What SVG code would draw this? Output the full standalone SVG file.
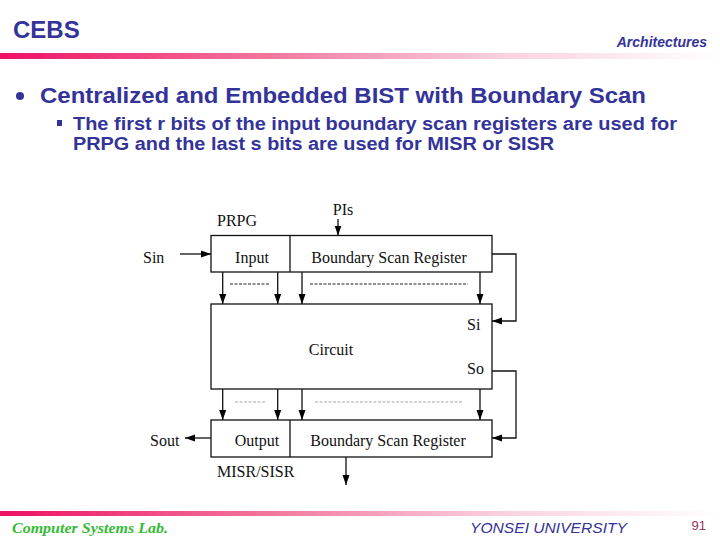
<svg xmlns="http://www.w3.org/2000/svg" width="720" height="540" viewBox="0 0 720 540">
<defs>
<linearGradient id="bar" x1="0" y1="0" x2="1" y2="0">
<stop offset="0" stop-color="#ee1166"/>
<stop offset="0.35" stop-color="#f27099"/>
<stop offset="0.7" stop-color="#fad2df"/>
<stop offset="1" stop-color="#ffffff"/>
</linearGradient>
<marker id="ah" viewBox="0 0 10 10" refX="10" refY="5" markerWidth="10" markerHeight="10" markerUnits="userSpaceOnUse" orient="auto">
<path d="M0,1.5 L10,5 L0,8.5 Z" fill="#000"/>
</marker>
<style>
.hd{font-family:"Liberation Sans",Arial,sans-serif;font-weight:bold;fill:#333399}
.tm{font-family:"Liberation Serif","Times New Roman",serif;font-size:16px;fill:#111}
.box{fill:#fff;stroke:#111;stroke-width:1.3}
.ln{fill:none;stroke:#111;stroke-width:1.3}
.ar{fill:none;stroke:#111;stroke-width:1.3;marker-end:url(#ah)}
.dk{stroke:#222;stroke-width:1.2;stroke-dasharray:3,1.5}
.gr{stroke:#aaa;stroke-width:1.2;stroke-dasharray:3,1.5}
</style>
</defs>
<rect width="720" height="540" fill="#fff"/>
<g id="header">
<text x="13" y="38" class="hd" font-size="24">CEBS</text>
<text x="707" y="47" class="hd" font-size="14" font-style="italic" text-anchor="end" fill="#330099">Architectures</text>
<rect x="0" y="53" width="720" height="6" fill="url(#bar)"/>
</g>
<g id="bullets">
<circle cx="20" cy="96" r="4" fill="#333399"/>
<text x="40" y="103" class="hd" font-size="22" textLength="606" lengthAdjust="spacingAndGlyphs">Centralized and Embedded BIST with Boundary Scan</text>
<rect x="57" y="120" width="5" height="6" fill="#333399"/>
<text x="73" y="130" class="hd" font-size="18" textLength="604" lengthAdjust="spacingAndGlyphs">The first r bits of the input boundary scan registers are used for</text>
<text x="73" y="150" class="hd" font-size="18" textLength="481" lengthAdjust="spacingAndGlyphs">PRPG and the last s bits are used for MISR or SISR</text>
</g>
<g id="top-register">
<rect x="211" y="235.5" width="281" height="36.5" class="box"/>
<line x1="290" y1="235.5" x2="290" y2="272" class="ln"/>
<text x="252" y="263" class="tm" text-anchor="middle">Input</text>
<text x="389" y="263" class="tm" text-anchor="middle">Boundary Scan Register</text>
<text x="217" y="226" class="tm">PRPG</text>
</g>
<g id="circuit">
<rect x="211" y="304" width="281" height="85" class="box"/>
<text x="331" y="355" class="tm" text-anchor="middle">Circuit</text>
<text x="467" y="330" class="tm">Si</text>
<text x="467" y="374" class="tm">So</text>
</g>
<g id="bottom-register">
<rect x="211" y="420" width="281" height="37" class="box"/>
<line x1="290" y1="420" x2="290" y2="457" class="ln"/>
<text x="257" y="446" class="tm" text-anchor="middle">Output</text>
<text x="388" y="446" class="tm" text-anchor="middle">Boundary Scan Register</text>
<text x="217" y="477" class="tm">MISR/SISR</text>
</g>
<g id="labels">
<text x="143" y="263" class="tm">Sin</text>
<text x="343" y="215" class="tm" text-anchor="middle">PIs</text>
<text x="150" y="446" class="tm">Sout</text>
</g>
<g id="connectors">
<line x1="180" y1="254" x2="211" y2="254" class="ar"/>
<line x1="338" y1="219" x2="338" y2="235.5" class="ar"/>
<line x1="222.7" y1="272" x2="222.7" y2="304" class="ar"/>
<line x1="277.7" y1="272" x2="277.7" y2="304" class="ar"/>
<line x1="302" y1="272" x2="302" y2="304" class="ar"/>
<line x1="480" y1="272" x2="480" y2="304" class="ar"/>
<line x1="230" y1="284" x2="270" y2="284" class="dk"/>
<line x1="310" y1="284" x2="468" y2="284" class="dk"/>
<line x1="222.7" y1="389" x2="222.7" y2="420" class="ar"/>
<line x1="277.7" y1="389" x2="277.7" y2="420" class="ar"/>
<line x1="302" y1="389" x2="302" y2="420" class="ar"/>
<line x1="480" y1="389" x2="480" y2="420" class="ar"/>
<line x1="235" y1="402" x2="265" y2="402" class="gr"/>
<line x1="315" y1="402" x2="462" y2="402" class="gr"/>
<polyline points="492,254 516,254 516,321 492,321" class="ar"/>
<polyline points="492,371 516,371 516,438 492,438" class="ar"/>
<line x1="211" y1="438" x2="185" y2="438" class="ar"/>
<line x1="346" y1="457" x2="346" y2="485" class="ar"/>
</g>
<g id="footer">
<rect x="0" y="511" width="720" height="5" fill="url(#bar)"/>
<text x="12" y="533" font-family="'Liberation Serif','Times New Roman',serif" font-style="italic" font-weight="bold" font-size="15" fill="#33bb33" textLength="156" lengthAdjust="spacingAndGlyphs">Computer Systems Lab.</text>
<text x="470" y="533" font-family="'Liberation Sans',Arial,sans-serif" font-style="italic" font-size="15" fill="#333399" textLength="157" lengthAdjust="spacingAndGlyphs">YONSEI UNIVERSITY</text>
<text x="706" y="530" font-family="'Liberation Sans',Arial,sans-serif" font-size="13" fill="#993366" text-anchor="end">91</text>
</g>
</svg>
